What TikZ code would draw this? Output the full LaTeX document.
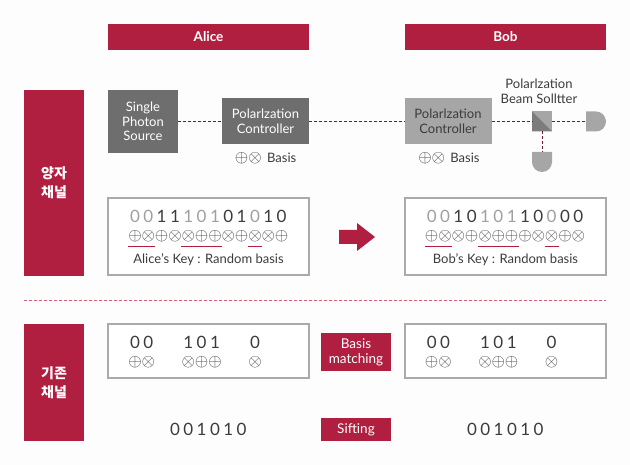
\documentclass[tikz,border=0pt]{standalone}
\usepackage{fontspec}
\setmainfont{Lato}
\newfontfamily\krfont{Noto Sans CJK KR}
\usepackage{tikz}
\usetikzlibrary{
  arrows.meta,
  shapes.misc,
  calc
}
\usepackage{xcolor}
\definecolor{ccrimson}{RGB}{176,31,64}
\definecolor{cdark}{RGB}{110,110,110}
\definecolor{clight}{RGB}{166,166,166}
\definecolor{cedge}{RGB}{170,170,170}
\definecolor{cbit}{RGB}{160,160,160}
\definecolor{ctext}{RGB}{60,60,60}
\definecolor{cpink}{RGB}{222,90,125}
\definecolor{cpaper}{RGB}{253,253,253}
\tikzset{
  header/.style={
    rectangle, fill=ccrimson, inner sep=0pt, outer sep=0pt,
    minimum width=201pt, minimum height=26pt,
    text=white, font=\fontsize{13.5}{15}\selectfont\bfseries
  },
  channel/.style={
    rectangle, fill=ccrimson, inner sep=0pt, outer sep=0pt,
    minimum width=60pt, align=center,
    text=white, font=\fontsize{14}{19}\selectfont\krfont\bfseries
  },
  tag/.style={
    rectangle, fill=ccrimson, inner sep=0pt, outer sep=0pt,
    minimum width=70pt, align=center,
    text=white, font=\fontsize{13.5}{15}\selectfont
  },
  device/.style={
    rectangle, inner sep=0pt, outer sep=0pt, align=center,
    font=\fontsize{13}{14.5}\selectfont
  },
  keybox/.style={
    rectangle, draw=cedge, line width=1.3pt, fill=white,
    inner sep=0pt, outer sep=0pt, minimum width=201pt
  },
  plain/.style={
    text=ctext, inner sep=0pt, align=center,
    font=\fontsize{13}{15}\selectfont
  },
  bit/.style={
    inner sep=0pt, font=\fontsize{17}{17}\selectfont
  },
  basis/.style={
    inner sep=0pt, minimum size=12pt, text=ctext,
    font=\fontsize{19}{19}\selectfont
  },
  detector/.style={
    rounded rectangle, rounded rectangle left arc=none, fill=clight,
    inner sep=0pt, outer sep=0pt, minimum width=20pt, minimum height=20pt
  },
  beam/.style={ccrimson!70!black, line width=0.7pt, dash pattern=on 3pt off 2pt},
  uline/.style={ccrimson, line width=1.2pt}
}
\newcommand{\bp}{$\oplus$}
\newcommand{\bt}{$\otimes$}
\begin{document}
\begin{tikzpicture}[x=1pt,y=-1pt]

    \fill[cpaper] (0,0) rectangle (630,465);
    \useasboundingbox (0,0) rectangle (630,465);

    %% Headers
    \node[header] (alice) at (208.5,37) {Alice};
    \node[header] (bob) at (505.5,37) {Bob};
    \node[channel, minimum height=186pt] (quantum) at (54,183) {양자\\채널};
    \node[channel, minimum height=117pt] (classic) at (54,382.5) {기존\\채널};

    %% Devices
    \node[device, fill=cdark, text=white, minimum width=70pt, minimum height=63pt]
      (source) at (143,121.5) {Single\\Photon\\Source};
    \node[device, fill=cdark, text=white, minimum width=87pt, minimum height=46pt]
      (ctrlA) at (265.5,121.5) {Polarlzation\\Controller};
    \node[device, fill=clight, text=ctext, minimum width=87pt, minimum height=46pt]
      (ctrlB) at (448,121.5) {Polarlzation\\Controller};
    \node[inner sep=0pt, outer sep=0pt, fill=clight, minimum size=20pt] (split) at (542,121.5) {};
    \fill[cdark!90] (split.north west)--(split.south east)--(split.south west)--cycle;
    \node[detector] (detR) at (596,121.5) {};
    \node[detector, rotate=-90] (detB) at (542,162) {};
    \node[plain] (splitL) at (539,91.5) {Polarlzation\\Beam Solltter};

    %% Beam
    \draw[beam] (source)--(ctrlA);
    \draw[beam] (ctrlA)--(ctrlB);
    \draw[beam] (ctrlB)--(split);
    \draw[beam] (split)--(detR);
    \draw[beam] (split)--(detB.west);

    %% Basis labels
    \foreach \n/\x in {A/241.7,B/425}{
      \node[basis] (plus\n) at (\x,158) {\bp};
      \node[basis] (times\n) at (\x+13.3,158) {\bt};
      \node[plain, right=5pt] (basis\n) at (times\n.east) {Basis};
    }

    %% Key boxes
    \node[keybox, minimum height=77pt] (keyA) at (208.5,236.5) {};
    \node[keybox, minimum height=77pt] (keyB) at (505.5,236.5) {};
    \node[plain] (keyAL) at (208.5,260) {Alice's Key : Random basis};
    \node[plain] (keyBL) at (505.5,260) {Bob's Key : Random basis};

    \foreach \l/\c [count=\i from 0] in {0/cbit,0/cbit,1/ctext,1/ctext,1/cbit,0/cbit,1/cbit,0/ctext,1/ctext,0/cbit,1/ctext,0/ctext}{
      \node[bit, text=\c] (bitA\i) at ({135+13.33*\i},216) {\l};
    }
    \foreach \l/\c [count=\i from 0] in {0/cbit,0/cbit,1/ctext,0/ctext,1/cbit,0/cbit,1/cbit,1/ctext,0/ctext,0/cbit,0/ctext,0/ctext}{
      \node[bit, text=\c] (bitB\i) at ({431.7+13.33*\i},216) {\l};
    }
    \foreach \s [count=\i from 0] in {\bp,\bt,\bp,\bt,\bt,\bp,\bp,\bt,\bp,\bt,\bt,\bp}{
      \node[basis] (baseA\i) at ({135+13.33*\i},236) {\s};
    }
    \foreach \s [count=\i from 0] in {\bp,\bt,\bt,\bp,\bt,\bp,\bp,\bp,\bt,\bt,\bp,\bt}{
      \node[basis] (baseB\i) at ({431.7+13.33*\i},236) {\s};
    }

    %% Matching bases
    \foreach \n in {A,B}{
      \foreach \a/\b in {0/1,4/6,9/9}{
        \draw[uline] ([yshift=-4pt]base\n\a.south west)--([yshift=-4pt]base\n\b.south east);
      }
    }

    %% Arrow
    \fill[ccrimson] (339,230)--(357,230)--(357,223)--(375,237)--(357,251)--(357,244)--(339,244)--cycle;

    %% Separator
    \coordinate (sepL) at (24,300);
    \coordinate (sepR) at (606,300);
    \draw[cpink, line width=0.8pt, dash pattern=on 3pt off 2pt] (sepL)--(sepR);

    %% Classical channel
    \node[keybox, minimum height=54pt] (siftA) at (208.5,351) {};
    \node[keybox, minimum height=54pt] (siftB) at (505.5,351) {};
    \node[tag, minimum height=38pt] (match) at (356,352) {Basis\\matching};
    \node[tag, minimum height=23pt] (sift) at (356,429.5) {Sifting};

    \foreach \n/\o in {A/135,B/431.7}{
      \foreach \i/\l/\s in {0/0/\bp,1/0/\bt,4/1/\bt,5/0/\bp,6/1/\bp,9/0/\bt}{
        \node[bit, text=ctext] (keptB\n\i) at ({\o+13.33*\i},342) {\l};
        \node[basis] (keptC\n\i) at ({\o+13.33*\i},362) {\s};
      }
    }
    \foreach \n/\o in {A/175,B/472}{
      \foreach \l [count=\i from 0] in {0,0,1,0,1,0}{
        \node[bit, text=ctext] (final\n\i) at ({\o+13.33*\i},429) {\l};
      }
    }

  \end{tikzpicture}
\end{document}
